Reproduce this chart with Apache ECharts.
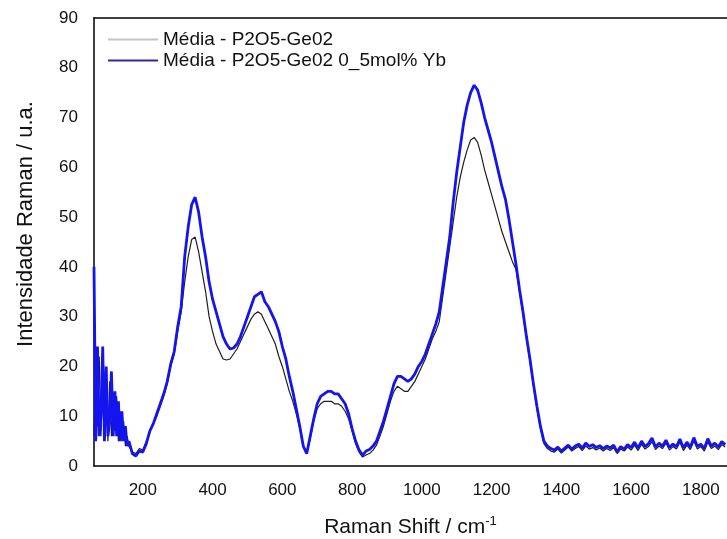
<!DOCTYPE html>
<html>
<head>
<meta charset="utf-8">
<title>Raman</title>
<script src="https://cdn.jsdelivr.net/npm/echarts@6/dist/echarts.min.js"></script>
<style>
  html, body { margin: 0; padding: 0; background: #fff; }
  #chart { width: 727px; height: 539px; }
</style>
</head>
<body>
<div id="chart"></div>
<script>
// Raman shift sampling points (cm^-1)
const shift = [
  60, 65, 70, 75, 80, 85, 90, 95, 100, 105, 110, 115, 120, 125, 130, 135, 140, 145, 150, 155, 160,
  170, 180, 190, 200, 210, 220, 230, 240, 250, 260,
  270, 280, 290, 300, 310, 320, 330, 340, 350, 360,
  370, 380, 390, 400, 410, 420, 430, 440, 450, 460,
  470, 480, 490, 500, 510, 520, 530, 540, 550, 560,
  570, 580, 590, 600, 610, 620, 630, 640, 650, 660,
  670, 680, 690, 700, 710, 720, 730, 740, 750, 760,
  770, 780, 790, 800, 810, 820, 830, 840, 850, 860,
  870, 880, 890, 900, 910, 920, 930, 940, 950, 960,
  970, 980, 990, 1000, 1010, 1020, 1030, 1040, 1050, 1060,
  1070, 1080, 1090, 1100, 1110, 1120, 1130, 1140, 1150, 1160,
  1170, 1180, 1190, 1200, 1210, 1220, 1230, 1240, 1250, 1260,
  1270, 1280, 1290, 1300, 1310, 1320, 1330, 1340, 1350, 1360,
  1370,
  1380, 1390, 1400, 1410, 1420, 1430, 1440, 1450, 1460, 1470,
  1480, 1490, 1500, 1510, 1520, 1530, 1540, 1550, 1560, 1570,
  1580, 1590, 1600, 1610, 1620, 1630, 1640, 1650, 1660, 1670,
  1680, 1690, 1700, 1710, 1720, 1730, 1740, 1750, 1760, 1770,
  1780, 1790, 1800, 1810, 1820, 1830, 1840, 1850, 1860, 1870
];

// Mean spectrum, undoped glass (u.a.)
const mediaBase = [
  6, 20, 8, 22, 6, 18, 7, 16, 5, 17, 6, 12, 7, 14, 5, 11, 5, 9, 4, 6, 4,
  2.8, 2.5, 3.5, 3.2, 5, 7, 8.5, 10, 12, 14,
  16.5, 20, 22.5, 27, 31, 37, 42, 45.5, 46, 43,
  39, 35, 30, 27, 24.5, 23, 21.5, 21.3, 21.5, 22.5,
  23.5, 25, 26.5, 28, 29.5, 30.5, 31, 30.5, 29, 27.5,
  26, 24.5, 22, 20, 17.5, 15, 13, 10.5, 7.5, 4,
  2.5, 5.5, 9, 11.5, 12.5, 13, 13, 13, 12.5, 12.5,
  12, 11, 9.5, 7, 4.5, 2.8, 1.8, 2.2, 2.5, 3.2,
  4.2, 6, 8, 10.5, 13, 15, 16, 15.5, 15, 15,
  16, 17, 18.5, 20, 21.5, 23.5, 25.5, 27, 29, 34,
  39, 44, 49, 54, 58, 61, 63.5, 65.5, 66, 65,
  62.5, 59.5, 57, 54.5, 52, 49.5, 47, 45, 43, 41,
  39.5, 35, 30.5, 25.5, 21, 16, 11.5, 7.5, 4.5, 3.5,
  3,
  2.8, 3.4, 2.6, 3.2, 3.8, 3.0, 3.5, 3.9, 3.1, 4.0,
  3.4, 3.7, 3.2, 3.6, 3.0, 3.5, 3.1, 3.7, 2.5, 3.4,
  3.0, 3.8, 3.2, 4.2, 3.1, 4.4, 3.4, 3.9, 4.9, 3.3,
  4.0, 3.5, 4.6, 3.2, 3.9, 3.4, 4.8, 3.1, 4.2, 3.3,
  5.0, 3.4, 3.9, 3.0, 4.8, 3.5, 4.0, 3.3, 4.3, 3.8
];

// Mean spectrum, glass doped with 0.5 mol% Yb (u.a.)
const mediaYb = [
  40, 5, 24, 6, 10, 24, 5, 20, 6, 9, 19, 6, 15, 6, 13, 5, 11, 5, 8, 4, 5,
  2.5, 2.0, 3.0, 2.8, 4.5, 7, 8.5, 10.5, 12.5, 14.5,
  17, 20.5, 23, 28, 32, 42, 48, 52.5, 54, 51,
  46, 42, 37, 33.5, 31, 28.5, 26, 24.5, 23.5, 23.7,
  24.5, 26, 28, 30, 32, 34, 34.5, 35, 33, 32,
  30.5, 29, 27, 24, 21.5, 18, 15, 11.5, 8, 4,
  2.5, 6, 9.5, 12.5, 14, 14.5, 15, 15, 14.5, 14.5,
  13.5, 12.5, 10.5, 7.5, 5, 3.2, 2.2, 3.0, 3.3, 4,
  5, 7, 9, 11.5, 14, 16.5, 18, 18, 17.5, 17,
  17.5, 18.5, 20, 21, 22.5, 24.5, 26.5, 28.5, 31, 36,
  41, 46, 53, 59, 64, 69, 72.5, 75, 76.5, 75.5,
  73, 70, 67.5, 65, 62, 59, 56, 53.5, 49.5, 45,
  40.5, 35.5, 31, 26, 21.5, 16.5, 12, 8, 5, 4,
  3.5,
  3.2, 3.8, 3.0, 3.6, 4.2, 3.4, 4.0, 4.4, 3.6, 4.6,
  3.9, 4.3, 3.7, 4.1, 3.5, 4.0, 3.6, 4.2, 2.8, 3.9,
  3.4, 4.3, 3.7, 4.8, 3.6, 5.0, 3.9, 4.5, 5.6, 3.8,
  4.6, 4.0, 5.2, 3.7, 4.4, 3.9, 5.4, 3.6, 4.8, 3.8,
  5.7, 3.9, 4.4, 3.5, 5.5, 4.0, 4.6, 3.8, 4.9, 4.3
];

const xTicks = [200, 400, 600, 800, 1000, 1200, 1400, 1600, 1800];
const seriesNames = ['Média - P2O5-Ge02', 'Média - P2O5-Ge02 0_5mol% Yb'];

const pairs = vals => shift.map((x, i) => [x, vals[i]]);
const FONT = '"Liberation Sans", Arial, sans-serif';

const chart = echarts.init(document.getElementById('chart'), null, { renderer: 'canvas' });
chart.setOption({
  animation: false,
  backgroundColor: '#fff',
  grid: { left: 94, right: 0, top: 18, bottom: 73, outerBoundsMode: 'none', containLabel: false },
  legend: {
    show: true,
    orient: 'vertical',
    left: 103,
    top: 25,
    icon: 'rect',
    itemWidth: 50,
    itemHeight: 2,
    itemGap: 2,
    textStyle: { fontFamily: FONT, fontSize: 19, color: '#111' },
    data: [
      { name: seriesNames[0], itemStyle: { color: '#c4c4c4' } },
      { name: seriesNames[1], itemStyle: { color: '#2c2c94' } }
    ]
  },
  xAxis: [{
    type: 'value',
    min: 60,
    max: 1875,
    name: '{n|Raman Shift / cm}{s|-1}',
    nameLocation: 'middle',
    nameGap: 49,
    nameTextStyle: {
      rich: {
        n: { fontFamily: FONT, fontSize: 21, color: '#111', lineHeight: 24 },
        s: { fontFamily: FONT, fontSize: 13, color: '#111', verticalAlign: 'top', lineHeight: 24 }
      }
    },
    axisLine: { show: true, lineStyle: { color: '#000', width: 1.5 } },
    axisTick: { show: false },
    splitLine: { show: false },
    axisLabel: {
      customValues: xTicks,
      formatter: v => String(v),
      margin: 16,
      fontFamily: FONT,
      fontSize: 17,
      color: '#111'
    }
  }, {
    type: 'value',
    position: 'top',
    min: 60,
    max: 1875,
    axisLine: { show: true, lineStyle: { color: '#000', width: 1.5 } },
    axisTick: { show: false },
    axisLabel: { show: false },
    splitLine: { show: false }
  }],
  yAxis: {
    type: 'value',
    min: 0,
    max: 90,
    interval: 10,
    name: 'Intensidade Raman / u.a.',
    nameLocation: 'middle',
    nameGap: 57,
    nameTextStyle: { fontFamily: FONT, fontSize: 22, color: '#111', padding: [0, 0, 0, 36] },
    axisLine: { show: true, lineStyle: { color: '#000', width: 1.5 } },
    axisTick: { show: false },
    splitLine: { show: false },
    axisLabel: { margin: 16, fontFamily: FONT, fontSize: 17, color: '#111' }
  },
  series: [
    {
      name: seriesNames[0],
      type: 'line',
      xAxisIndex: 0,
      data: pairs(mediaBase),
      symbol: 'none',
      lineStyle: { color: '#1e1e1e', width: 1.2 }
    },
    {
      name: seriesNames[1],
      type: 'line',
      xAxisIndex: 0,
      data: pairs(mediaYb),
      symbol: 'none',
      lineStyle: { color: '#1414ee', width: 2.8 }
    }
  ]
});
</script>
</body>
</html>
